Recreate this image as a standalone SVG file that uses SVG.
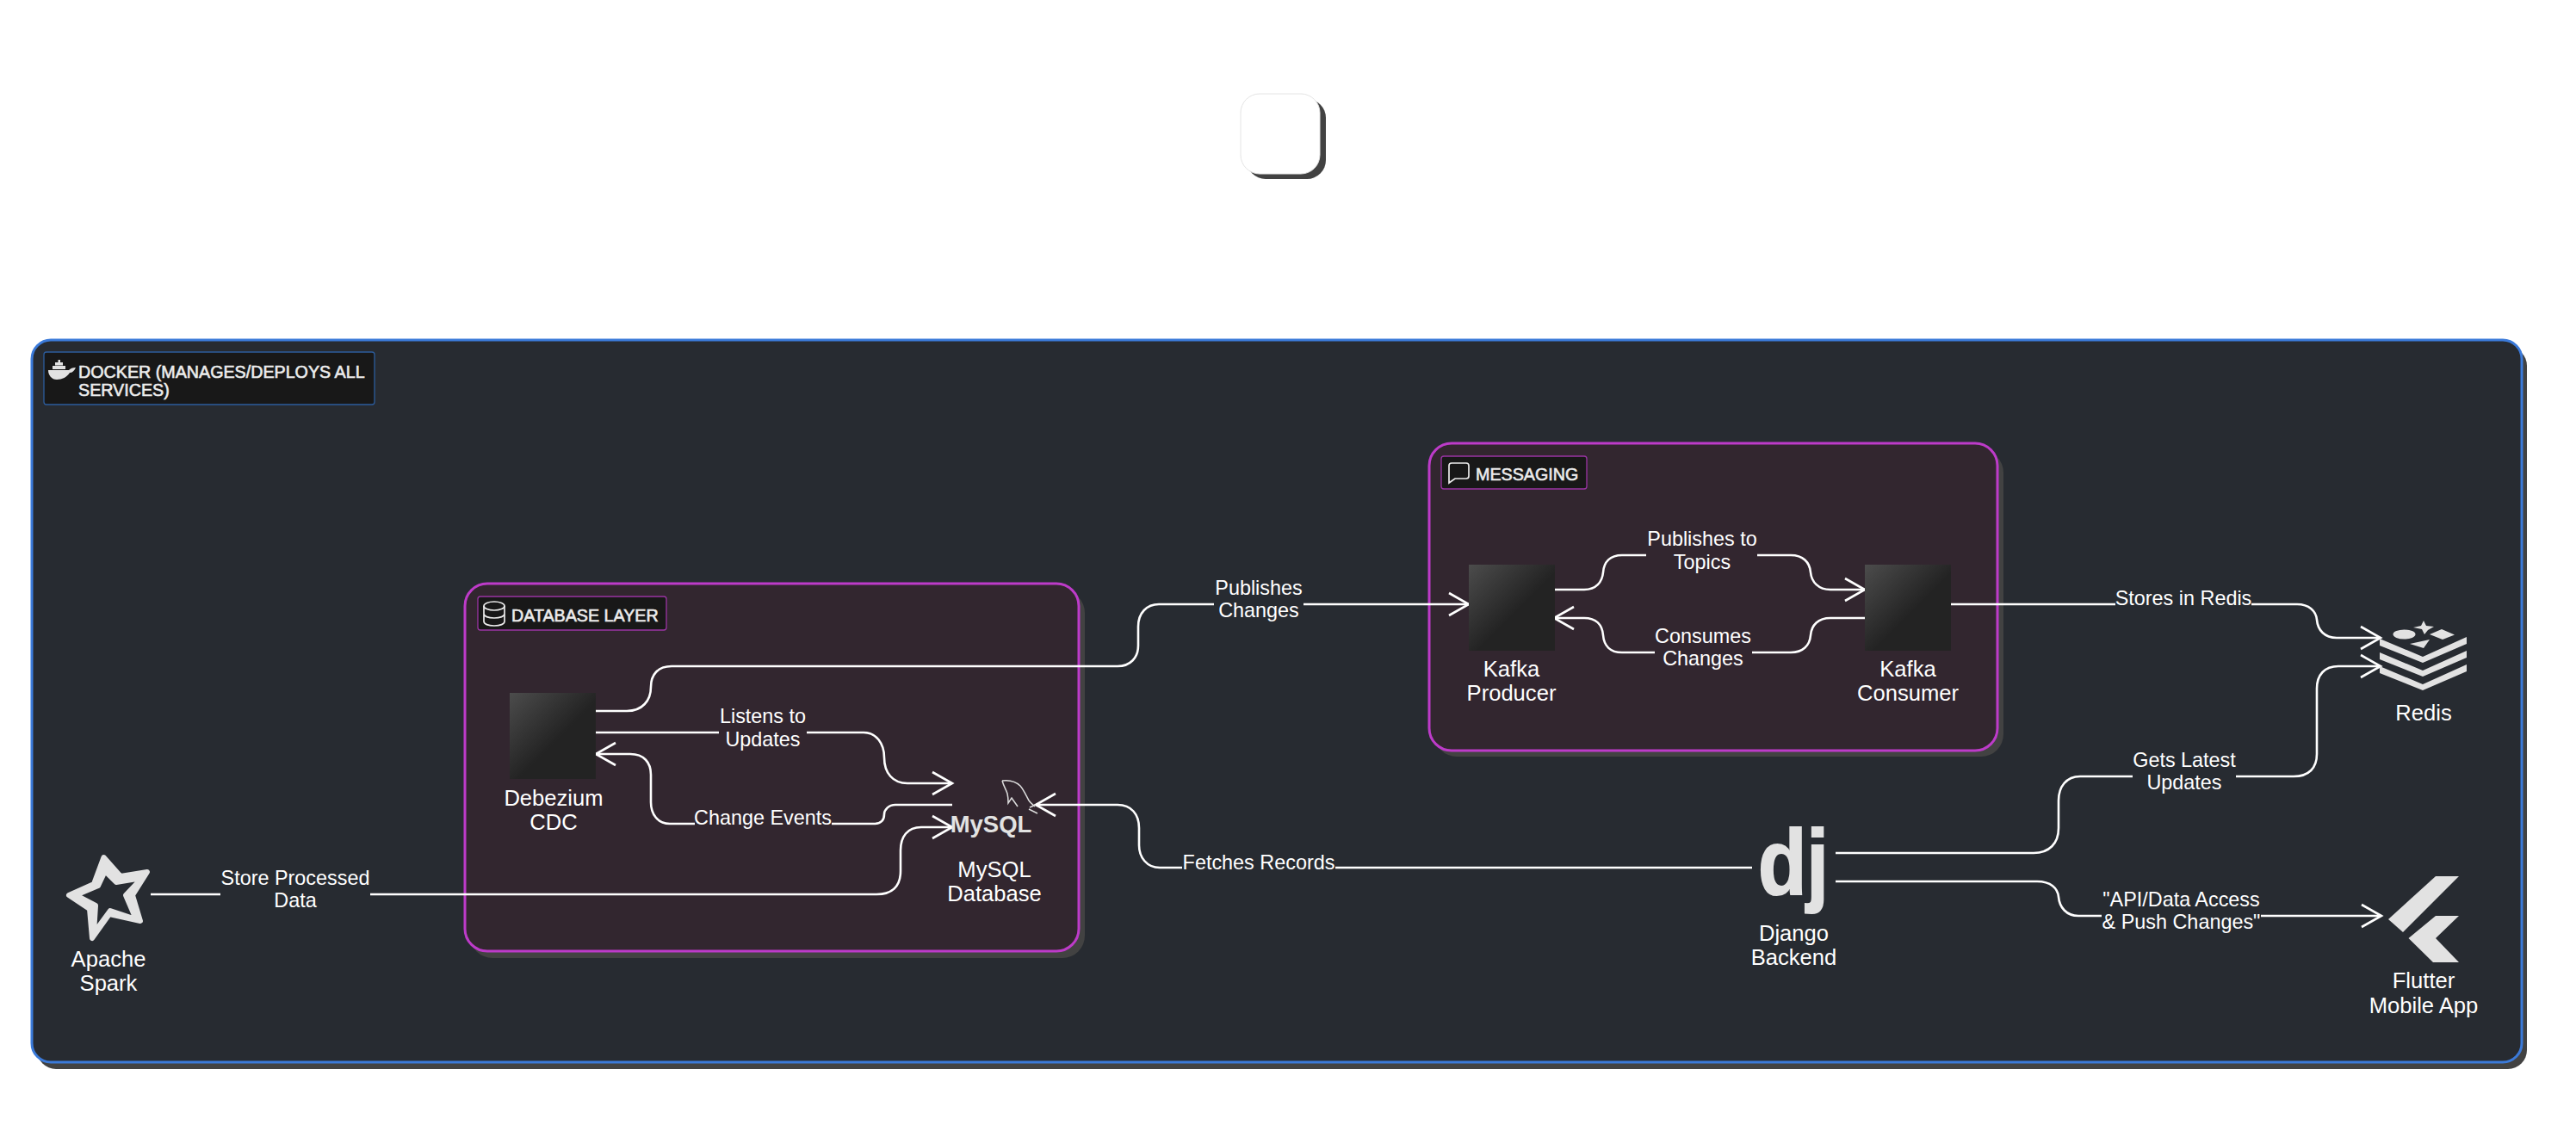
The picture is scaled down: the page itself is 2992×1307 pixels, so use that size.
<svg xmlns="http://www.w3.org/2000/svg" width="2992" height="1307" viewBox="0 0 2992 1307">
<style>
text{font-family:"Liberation Sans",Arial,sans-serif;fill:#fff;font-size:23.400px;text-anchor:middle}
.node{font-size:25.600px}
.title{font-size:19.700px;text-anchor:start;fill:#ececec;stroke:#ececec;stroke-width:.6px}
.logo{fill:#e2e2e2;font-weight:700}
.cluster{stroke-width:3}
.db{fill:#32262f;stroke:#bd3bc9}
.tag{fill:#181818;stroke-width:1.300}
.shadow{fill:#424242}
.sq{fill:url(#nodeGrad)}
.ico{fill:#e2e2e2}
.line{fill:none;stroke:#fff;stroke-width:2.600;stroke-linecap:butt}
.arr{marker-end:url(#open)}
.bgo{fill:#272b31}
.bgi{fill:#32262f}
</style>
<defs>
<linearGradient id="nodeGrad" x1="0" y1="0" x2="1" y2="1">
<stop offset="0" stop-color="#4c4c4c"/><stop offset=".55" stop-color="#232323"/><stop offset="1" stop-color="#232323"/>
</linearGradient>
<marker id="open" markerUnits="userSpaceOnUse" markerWidth="30" markerHeight="32" refX="26" refY="16" orient="auto">
<path d="M3 3 L26 16 L3 29" fill="none" stroke="#fff" stroke-width="2.600"/>
</marker>
</defs>
<rect width="2992" height="1307" fill="#fff"/>

<g id="top-box">
<rect class="shadow" x="1448" y="115" width="92" height="93" rx="22"/>
<rect x="1441" y="109" width="92" height="93" rx="22" fill="#fff" stroke="#e4e4e4" stroke-width="1"/>
</g>

<g id="docker">
<rect class="shadow" x="43" y="403" width="2892" height="839" rx="22"/>
<rect class="cluster" x="37" y="395" width="2892" height="839" rx="22" fill="#272b31" stroke="#3b7ad9"/>
<rect class="tag" x="51" y="409" width="384" height="61" rx="3" stroke="#2c5c9c"/>
<g class="ico">
<path d="M56 430H80C82 428 84 427 88 427C86 431 84 433 81 433C78 438 72 441 66 441C60 441 56 436 56 430Z"/>
<rect x="61" y="425" width="15" height="4"/><rect x="64" y="421" width="9" height="3.500"/><rect x="67.500" y="418" width="2.500" height="3"/>
</g>
<text class="title" x="91" y="439">DOCKER (MANAGES/DEPLOYS ALL</text>
<text class="title" x="91" y="460">SERVICES)</text>
</g>

<g id="database-layer">
<rect class="shadow" x="546" y="686" width="714" height="427" rx="26"/>
<rect class="cluster db" x="540" y="678" width="713" height="427" rx="26"/>
<rect class="tag" x="555" y="693" width="219" height="39" rx="3" stroke="#9a34a4"/>
<g fill="none" stroke="#ececec" stroke-width="1.700">
<ellipse cx="574" cy="704" rx="12" ry="5"/>
<path d="M562 704V722C562 725 567 727 574 727C581 727 586 725 586 722V704M562 713C562 716 567 718 574 718C581 718 586 716 586 713"/>
</g>
<text class="title" x="594" y="722">DATABASE LAYER</text>
</g>

<g id="messaging">
<rect class="shadow" x="1666" y="523" width="661" height="356" rx="26"/>
<rect class="cluster db" x="1660" y="515" width="660" height="357" rx="26"/>
<rect class="tag" x="1674" y="530" width="169" height="38" rx="3" stroke="#9a34a4"/>
<path d="M1686 538H1703C1705 538 1706 539 1706 541V553C1706 555 1705 556 1703 556H1690L1683 561V541C1683 539 1684 538 1686 538Z" fill="none" stroke="#ececec" stroke-width="1.700"/>
<text class="title" x="1714" y="558">MESSAGING</text>
</g>

<g id="connectors">
<path class="line arr" d="M692 826H728C746 826 756 814 756 798C756 784 764 774 780 774H1298C1313 774 1322 764 1322 750V728C1322 712 1332 702 1346 702H1706"/>
<path class="line arr" d="M692 851H1003C1018 851 1027 864 1027 880C1027 898 1037 910 1054 910H1106"/>
<path class="line arr" d="M1106 935H1040C1032 935 1027 941 1027 946C1027 952 1024 957 1016 957H778C764 957 756 946 756 932V900C756 886 748 876 732 876H692"/>
<path class="line arr" d="M175 1039H1018C1036 1039 1046 1030 1046 1012V988C1046 972 1054 961 1070 961H1106"/>
<path class="line arr" d="M2035 1008H1347C1332 1008 1323 996 1323 982V962C1323 946 1314 935 1298 935H1203"/>
<path class="line arr" d="M1805 685H1840C1854 685 1861 676 1862 665C1863 653 1870 645 1884 645H2080C2094 645 2102 653 2103 665C2104 676 2112 685 2126 685H2166"/>
<path class="line arr" d="M2166 718H2126C2112 718 2104 726 2103 738C2102 750 2094 758 2080 758H1884C1870 758 1863 750 1862 738C1861 726 1854 718 1840 718H1805"/>
<path class="line arr" d="M2266 702H2668C2682 702 2690 710 2691 720C2692 732 2700 741 2714 741H2765"/>
<path class="line arr" d="M2132 991H2362C2380 991 2391 980 2391 962V930C2391 914 2400 902 2416 902H2664C2682 902 2691 892 2691 876V800C2691 784 2700 774 2716 774H2765"/>
<path class="line arr" d="M2132 1024H2366C2382 1024 2390 1032 2391 1042C2392 1054 2400 1064 2414 1064H2766"/>
<rect class="bgo" x="1410" y="668" width="104" height="52"/><text x="1462" y="691">Publishes</text><text x="1462" y="717">Changes</text>
<rect class="bgi" x="835" y="822" width="102" height="54"/><text x="886" y="840">Listens to</text><text x="886" y="867">Updates</text>
<rect class="bgi" x="807" y="938" width="159" height="28"/><text x="886" y="958">Change Events</text>
<rect class="bgo" x="256" y="1012" width="174" height="52"/><text x="343" y="1028">Store Processed</text><text x="343" y="1054">Data</text>
<rect class="bgo" x="1373" y="990" width="178" height="28"/><text x="1462" y="1010">Fetches Records</text>
<rect class="bgi" x="1912" y="616" width="129" height="52"/><text x="1977" y="634">Publishes to</text><text x="1977" y="661">Topics</text>
<rect class="bgi" x="1922" y="729" width="113" height="52"/><text x="1978" y="747">Consumes</text><text x="1978" y="773">Changes</text>
<rect class="bgo" x="2457" y="685" width="158" height="28"/><text x="2536" y="703">Stores in Redis</text>
<rect class="bgo" x="2477" y="873" width="120" height="52"/><text x="2537" y="891">Gets Latest</text><text x="2537" y="917">Updates</text>
<rect class="bgo" x="2441" y="1034" width="185" height="52"/><text x="2533.500" y="1053">"API/Data Access</text><text x="2533.500" y="1079">&amp; Push Changes"</text>
</g>

<g id="debezium"><rect class="sq" x="592" y="805" width="100" height="100"/><text class="node" x="643" y="936">Debezium</text><text class="node" x="643" y="964">CDC</text></g>

<g id="mysql">
<path d="M1164 907C1172 906 1180 908 1185 913C1190 919 1192 925 1195 930C1197 933 1200 935 1202 937M1164 907C1166 914 1169 918 1170 922C1171 926 1171 930 1171 933L1175 927C1177 930 1180 934 1182 937M1195 940L1205 945M1196 938L1203 935" fill="none" stroke="#dcdcdc" stroke-width="1.500"/>
<text class="logo" x="1151" y="967" style="font-size:27.500px">MySQL</text>
<text class="node" x="1155" y="1019">MySQL</text><text class="node" x="1155" y="1047">Database</text>
</g>

<g id="spark">
<path class="ico" fill-rule="evenodd" stroke="#e2e2e2" stroke-width="6" stroke-linejoin="round" d="M120.500 996L140 1018L171 1013L154 1040L163 1070L127 1062L107 1090L104 1056L80 1040L109 1027ZM122 1012L114 1029L88 1040L111 1052L109 1084L128 1058L158 1068L146 1040L165 1020L135 1025Z"/>
<text class="node" x="126" y="1123">Apache</text><text class="node" x="126" y="1151">Spark</text>
</g>

<g id="kafka-producer"><rect class="sq" x="1706" y="656" width="100" height="100"/><text class="node" x="1755.500" y="786">Kafka</text><text class="node" x="1755.500" y="814">Producer</text></g>
<g id="kafka-consumer"><rect class="sq" x="2166" y="656" width="100" height="100"/><text class="node" x="2216" y="786">Kafka</text><text class="node" x="2216" y="814">Consumer</text></g>

<g id="redis">
<g class="ico">
<ellipse cx="2792.500" cy="737" rx="13" ry="5.500"/>
<polygon points="2815,721 2818,727 2827,728 2820,732 2816,737 2813,731 2803,729 2812,727"/>
<polygon points="2822,737 2836,731 2851,737.500 2837,743"/>
<polygon points="2799,748 2822,743 2815,753"/>
<polygon points="2764,742 2814,763 2865,740 2865,748 2814,770 2764,750"/>
<polygon points="2764,758 2814,779 2865,756 2865,764 2814,786 2764,766"/>
<polygon points="2764,774 2814,795 2865,772 2865,780 2814,802 2764,782"/>
</g>
<text class="node" x="2815" y="837">Redis</text>
</g>

<g id="django">
<text class="logo" x="2083" y="1039" style="font-size:107px;stroke:#e2e2e2;stroke-width:2px" textLength="82" lengthAdjust="spacingAndGlyphs">dj</text>
<text class="node" x="2083.500" y="1093">Django</text><text class="node" x="2083.500" y="1121">Backend</text>
</g>

<g id="flutter">
<g class="ico">
<polygon points="2856,1018 2829,1018 2774,1068 2791,1083"/>
<polygon points="2829,1064 2856,1064 2829,1090 2856,1118 2826,1118 2797.500,1090"/>
</g>
<text class="node" x="2815" y="1148">Flutter</text><text class="node" x="2815" y="1177">Mobile App</text>
</g>
</svg>
